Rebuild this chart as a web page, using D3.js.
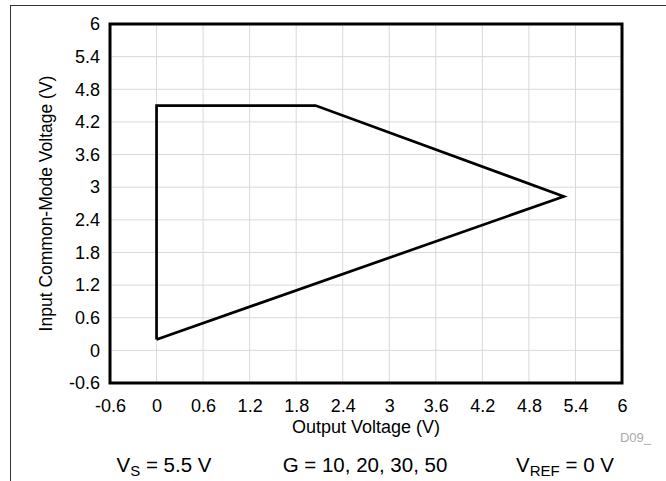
<!DOCTYPE html>
<html>
<head>
<meta charset="utf-8">
<script src="https://cdn.jsdelivr.net/npm/d3@7"></script>
<style>
  html, body { margin: 0; padding: 0; background: #fff; }
  svg text { font-family: "Liberation Sans", Arial, sans-serif; fill: #000; }
</style>
</head>
<body>
<svg id="chart" width="666" height="481"></svg>
<script>
// Data
const outputVoltage = [0, 0, 2.05, 5.25, 0];
const inputCMVoltage = [0.2, 4.5, 4.5, 2.83, 0.2];
const xTicks = [-0.6, 0, 0.6, 1.2, 1.8, 2.4, 3, 3.6, 4.2, 4.8, 5.4, 6];
const yTicks = [-0.6, 0, 0.6, 1.2, 1.8, 2.4, 3, 3.6, 4.2, 4.8, 5.4, 6];
const xTitle = "Output Voltage (V)";
const yTitle = "Input Common-Mode Voltage (V)";
const docId = "D09_";

const svg = d3.select("#chart");
const W = 666, H = 481;
const m = { left: 110, right: 622, top: 24, bottom: 383 };

const x = d3.scaleLinear().domain([-0.6, 6]).range([m.left, m.right]);
const y = d3.scaleLinear().domain([-0.6, 6]).range([m.bottom, m.top]);

// outer frame (top and left lines)
svg.append("line").attr("x1", 10).attr("x2", W).attr("y1", 5.5).attr("y2", 5.5)
  .attr("stroke", "#333").attr("stroke-width", 1);
svg.append("line").attr("x1", 10.5).attr("x2", 10.5).attr("y1", 5).attr("y2", H)
  .attr("stroke", "#333").attr("stroke-width", 1);

// grid
const grid = svg.append("g");
grid.selectAll(".gx").data(xTicks).join("line")
  .attr("x1", d => x(d)).attr("x2", d => x(d))
  .attr("y1", m.top).attr("y2", m.bottom)
  .attr("stroke", "#d9d9d9").attr("stroke-width", 1);
grid.selectAll(".gy").data(yTicks).join("line")
  .attr("y1", d => y(d)).attr("y2", d => y(d))
  .attr("x1", m.left).attr("x2", m.right)
  .attr("stroke", "#d9d9d9").attr("stroke-width", 1);

// axes (labels only)
const fmt = d => String(d);
const xAxis = svg.append("g").attr("transform", `translate(0,${m.bottom})`)
  .call(d3.axisBottom(x).tickValues(xTicks).tickFormat(fmt).tickSize(0).tickPadding(16));
const yAxis = svg.append("g").attr("transform", `translate(${m.left},0)`)
  .call(d3.axisLeft(y).tickValues(yTicks).tickFormat(fmt).tickSize(0).tickPadding(10));
[xAxis, yAxis].forEach(a => {
  a.select(".domain").remove();
  a.selectAll("text").attr("font-size", 18).attr("font-family", "Liberation Sans, Arial, sans-serif").attr("fill", "#000");
});

// plot border
svg.append("rect").attr("x", m.left).attr("y", m.top)
  .attr("width", m.right - m.left).attr("height", m.bottom - m.top)
  .attr("fill", "none").attr("stroke", "#000").attr("stroke-width", 3);

// data line
const pts = outputVoltage.map((v, i) => [v, inputCMVoltage[i]]);
svg.append("path").datum(pts)
  .attr("d", d3.line().x(d => x(d[0])).y(d => y(d[1])))
  .attr("fill", "none").attr("stroke", "#000").attr("stroke-width", 2.7)
  .attr("stroke-linejoin", "miter");

// axis titles
svg.append("text").attr("x", (m.left + m.right) / 2).attr("y", 433)
  .attr("text-anchor", "middle").attr("font-size", 18).text(xTitle);
svg.append("text").attr("transform", `translate(52,${(m.top + m.bottom) / 2}) rotate(-90)`)
  .attr("text-anchor", "middle").attr("font-size", 17.5).text(yTitle);

// doc id
svg.append("text").attr("x", 651).attr("y", 442).attr("text-anchor", "end")
  .attr("font-size", 13).style("fill", "#aaa").text(docId);

// conditions
const cond = svg.append("g").attr("font-size", 20.5);
const t1 = cond.append("text").attr("x", 164).attr("y", 472).attr("text-anchor", "middle");
t1.append("tspan").text("V");
t1.append("tspan").attr("font-size", 15).attr("dy", 4).text("S");
t1.append("tspan").attr("dy", -4).text(" = 5.5 V");
cond.append("text").attr("x", 365).attr("y", 472).attr("text-anchor", "middle").text("G = 10, 20, 30, 50");
const t3 = cond.append("text").attr("x", 565).attr("y", 472).attr("text-anchor", "middle");
t3.append("tspan").text("V");
t3.append("tspan").attr("font-size", 15).attr("dy", 4).text("REF");
t3.append("tspan").attr("dy", -4).text(" = 0 V");
</script>
</body>
</html>
